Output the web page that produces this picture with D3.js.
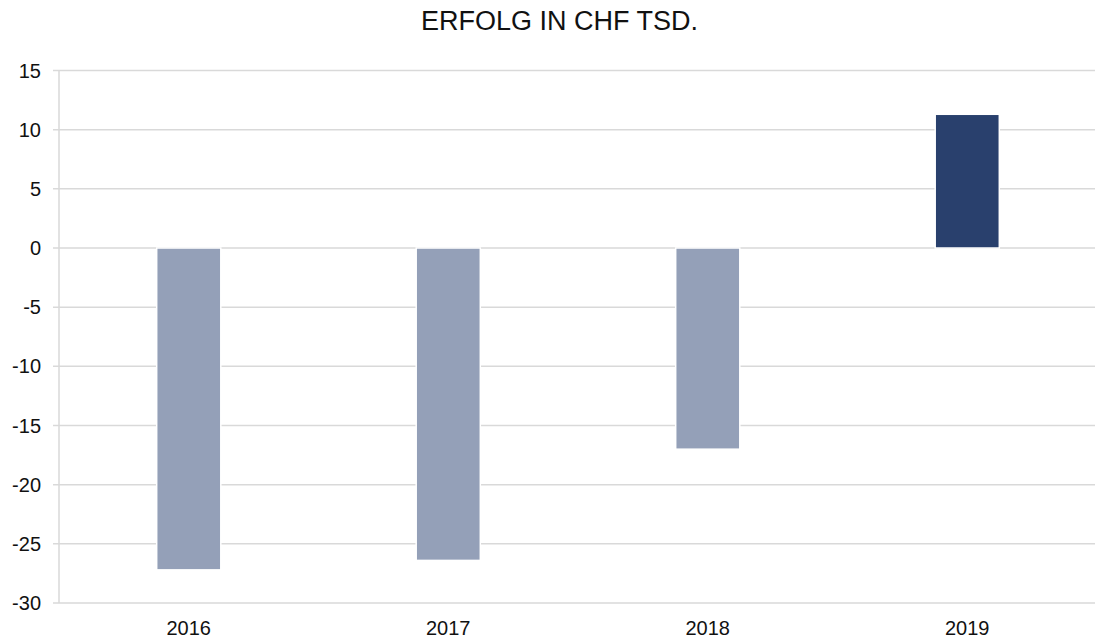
<!DOCTYPE html>
<html>
<head>
<meta charset="utf-8">
<script src="https://cdn.jsdelivr.net/npm/d3@7"></script>
<style>
  body { margin: 0; background: #fff; }
  text { font-family: "Liberation Sans", Arial, sans-serif; fill: #111; }
</style>
</head>
<body>
<div id="chart"></div>
<script>
// data
var years = ["2016", "2017", "2018", "2019"];
var erfolg = [-27.2, -26.4, -17.0, 11.3];
var barColors = ["#94a0b8", "#94a0b8", "#94a0b8", "#29406d"];
var yTicks = [15, 10, 5, 0, -5, -10, -15, -20, -25, -30];
var title = "ERFOLG IN CHF TSD.";

var W = 1095, H = 642;
var m = {top: 70.5, right: -2, bottom: 39, left: 59};

var svg = d3.select("#chart").append("svg")
  .attr("width", W)
  .attr("height", H);

var x = d3.scaleBand()
  .domain(years)
  .range([m.left, W - m.right])
  .paddingInner(0.753)
  .paddingOuter(0.3765);

var y = d3.scaleLinear()
  .domain([-30, 15])
  .range([H - m.bottom, m.top]);

// gridlines
svg.append("g")
  .selectAll("line")
  .data(yTicks)
  .enter()
  .append("line")
  .attr("x1", m.left - 6)
  .attr("x2", W)
  .attr("y1", function(d) { return y(d); })
  .attr("y2", function(d) { return y(d); })
  .attr("stroke", "#d9d9d9")
  .attr("stroke-width", 1.5);

// y axis line
svg.append("line")
  .attr("x1", m.left)
  .attr("x2", m.left)
  .attr("y1", y(15))
  .attr("y2", y(-30))
  .attr("stroke", "#d9d9d9")
  .attr("stroke-width", 1.5);

// bars
svg.append("g")
  .selectAll("rect")
  .data(erfolg)
  .enter()
  .append("rect")
  .attr("x", function(d, i) { return x(years[i]); })
  .attr("width", x.bandwidth())
  .attr("y", function(d) { return y(Math.max(0, d)); })
  .attr("height", function(d) { return Math.abs(y(d) - y(0)); })
  .attr("fill", function(d, i) { return barColors[i]; })
  .attr("stroke", "#fff")
  .attr("stroke-width", 1.5);

// y labels
svg.append("g")
  .selectAll("text")
  .data(yTicks)
  .enter()
  .append("text")
  .attr("x", 41)
  .attr("y", function(d) { return y(d); })
  .attr("dy", "0.35em")
  .attr("text-anchor", "end")
  .style("font-size", "20px")
  .text(function(d) { return d; });

// x labels
svg.append("g")
  .selectAll("text")
  .data(years)
  .enter()
  .append("text")
  .attr("x", function(d) { return x(d) + x.bandwidth() / 2; })
  .attr("y", 635)
  .attr("text-anchor", "middle")
  .style("font-size", "20px")
  .text(function(d) { return d; });

svg.append("text")
  .attr("x", 559.5)
  .attr("y", 30)
  .attr("text-anchor", "middle")
  .style("font-size", "27px")
  .text(title);
</script>
</body>
</html>
